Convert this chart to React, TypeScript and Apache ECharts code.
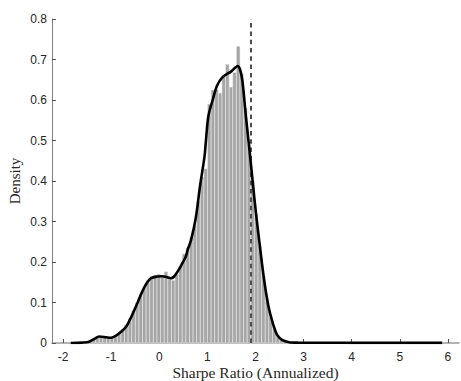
import React, { useEffect, useRef } from "react";
import * as echarts from "echarts";

// Histogram bins (centers, density), constant bin width
const binWidth = 0.075;
const binCenters = [
  -1.51, -1.435, -1.36, -1.285, -1.21, -1.135, -1.06, -0.985, -0.91, -0.835,
  -0.76, -0.685, -0.61, -0.535, -0.46, -0.385, -0.31, -0.235, -0.16, -0.085,
  -0.01, 0.065, 0.14, 0.215, 0.29, 0.365, 0.44, 0.515, 0.59, 0.665,
  0.74, 0.815, 0.89, 0.965, 1.04, 1.115, 1.19, 1.265, 1.34, 1.415,
  1.49, 1.565, 1.64, 1.715, 1.79, 1.865, 1.94, 2.015, 2.09, 2.165,
  2.24, 2.315, 2.39, 2.465, 2.54, 2.615, 2.69, 2.765,
];
const binHeights = [
  0.002, 0.004, 0.01, 0.016, 0.017, 0.015, 0.013, 0.014, 0.018, 0.024,
  0.033, 0.045, 0.06, 0.08, 0.1, 0.12, 0.14, 0.15, 0.165, 0.168,
  0.17, 0.165, 0.176, 0.158, 0.155, 0.17, 0.19, 0.22, 0.235, 0.26,
  0.29, 0.35, 0.41, 0.43, 0.59, 0.625, 0.626, 0.617, 0.66, 0.688,
  0.632, 0.668, 0.733, 0.665, 0.58, 0.49, 0.4, 0.32, 0.24, 0.165,
  0.11, 0.065, 0.035, 0.018, 0.008, 0.004, 0.002, 0.001,
];

// Kernel density estimate curve
const kdeX = [
  -1.84, -1.6, -1.46, -1.35, -1.25, -1.1, -1.0, -0.9, -0.8, -0.69,
  -0.6, -0.55, -0.45, -0.35, -0.25, -0.17, -0.05, 0.07, 0.15, 0.24,
  0.3, 0.4, 0.48, 0.55, 0.59, 0.66, 0.76, 0.85, 0.94, 0.97,
  1.02, 1.11, 1.2, 1.32, 1.49, 1.58, 1.63, 1.68, 1.73, 1.8,
  1.87, 1.94, 2.01, 2.1, 2.18, 2.27, 2.36, 2.45, 2.56, 2.7,
  2.9, 3.5, 4.0, 5.0, 5.88,
];
const kdeY = [
  0, 0.001, 0.003, 0.01, 0.016, 0.014, 0.013, 0.018, 0.027, 0.04,
  0.06, 0.073, 0.1, 0.128, 0.15, 0.16, 0.164, 0.165, 0.163, 0.16,
  0.163, 0.18, 0.197, 0.213, 0.23, 0.254, 0.31, 0.39, 0.46, 0.5,
  0.56, 0.6, 0.635, 0.657, 0.67, 0.68, 0.684, 0.675, 0.645, 0.56,
  0.482, 0.4, 0.32, 0.23, 0.155, 0.09, 0.049, 0.02, 0.007, 0.002,
  0.0008, 0.0005, 0.0004, 0.0003, 0.0003,
];

// Dashed reference line (mean Sharpe)
const refX = 1.906;

const xTicks = [-2, -1, 0, 1, 2, 3, 4, 5, 6];
const xMin = -2.23;
const xMax = 6.23;
const yMin = 0;
const yMax = 0.8;
const yInterval = 0.1;

const xName = "Sharpe Ratio (Annualized)";
const yName = "Density";

export default function App() {
  const ref = useRef<HTMLDivElement>(null);
  useEffect(() => {
    if (!ref.current) return;
    const chart = echarts.init(ref.current, undefined, { renderer: "svg" });
    const sans = "'Liberation Sans', Arial, Helvetica, sans-serif";
    const serif = "'Liberation Serif', 'Times New Roman', serif";
    chart.setOption({
      animation: false,
      backgroundColor: "#ffffff",
      grid: {
        left: 52,
        right: 2,
        top: 19,
        bottom: 38,
        containLabel: false,
        outerBoundsMode: "none",
      },
      xAxis: {
        type: "value",
        min: xMin,
        max: xMax,
        name: xName,
        nameLocation: "middle",
        nameGap: 21,
        nameMoveOverlap: false,
        nameTextStyle: { fontFamily: serif, fontSize: 15.5, color: "#262626" },
        axisLine: { show: true, onZero: false, lineStyle: { color: "#9a9a9a", width: 1.5 } },
        axisTick: {
          show: true,
          inside: true,
          length: 4,
          customValues: xTicks,
          lineStyle: { color: "#555555", width: 1 },
        },
        axisLabel: {
          customValues: xTicks,
          fontFamily: sans,
          fontSize: 12,
          color: "#262626",
          margin: 8,
          formatter: (v: number) => String(v),
        },
        splitLine: { show: false },
      },
      yAxis: {
        type: "value",
        min: yMin,
        max: yMax,
        interval: yInterval,
        name: yName,
        nameLocation: "middle",
        nameGap: 30,
        nameMoveOverlap: false,
        nameTextStyle: { fontFamily: serif, fontSize: 15, color: "#262626" },
        axisLine: { show: true, onZero: false, lineStyle: { color: "#808080", width: 1 } },
        axisTick: {
          show: true,
          inside: true,
          length: 4,
          lineStyle: { color: "#555555", width: 1 },
        },
        axisLabel: {
          fontFamily: sans,
          fontSize: 12,
          color: "#262626",
          margin: 5,
          formatter: (v: number) => (v === 0 ? "0" : String(Math.round(v * 10) / 10)),
        },
        splitLine: { show: false },
      },
      series: [
        {
          type: "custom",
          data: binCenters.map((c, i) => [c, binHeights[i]]),
          encode: { x: 0, y: 1 },
          renderItem: (params: any, api: any) => {
            const c = api.value(0);
            const h = api.value(1);
            const p0 = api.coord([c - binWidth / 2, h]);
            const p1 = api.coord([c + binWidth / 2, 0]);
            return {
              type: "rect",
              shape: { x: p0[0], y: p0[1], width: p1[0] - p0[0], height: p1[1] - p0[1] },
              style: { fill: "#a6a6a6", stroke: "#f0f0f0", lineWidth: 0.5 },
            };
          },
          z: 1,
        },
        {
          type: "line",
          data: [
            [refX, yMin],
            [refX, yMax],
          ],
          symbol: "none",
          lineStyle: { color: "#4d4d4d", width: 2, type: [4.5, 3.8] },
          z: 2,
        },
        {
          type: "line",
          data: kdeX.map((x, i) => [x, kdeY[i]]),
          symbol: "none",
          smooth: 0.3,
          lineStyle: { color: "#000000", width: 2.6 },
          z: 3,
        },
      ],
    });
    return () => chart.dispose();
  }, []);
  return (
    <div
      ref={ref}
      style={{ position: "fixed", left: 0, top: 0, width: 461, height: 381, background: "#fff" }}
    />
  );
}
